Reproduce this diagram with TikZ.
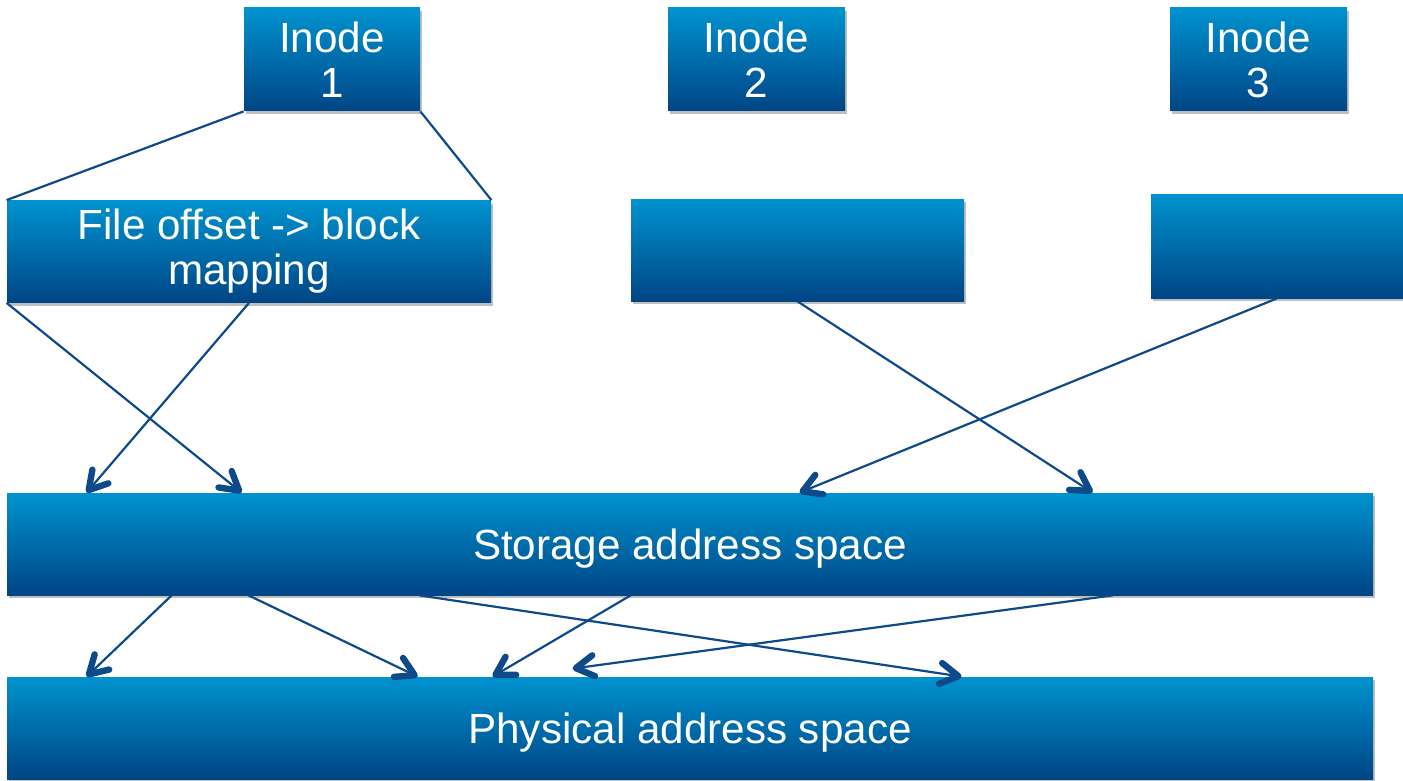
\documentclass[tikz,border=0pt]{standalone}
\usepackage{fontspec}
\setmainfont{Liberation Sans}
\usetikzlibrary{arrows.meta,calc,shadows}
\definecolor{boxtop}{HTML}{0093CF}
\definecolor{boxbot}{HTML}{004585}
\definecolor{linec}{HTML}{0E4A8A}
\begin{document}
\begin{tikzpicture}[x=0.5pt,y=-0.5pt,
  blk/.style={rectangle, inner sep=0pt, top color=boxtop, bottom color=boxbot,
    text=white, align=center, font=\fontsize{21.1}{22.5}\selectfont,
    drop shadow={shadow xshift=1.2pt, shadow yshift=-1.5pt, opacity=0.25, fill=black}},
  lowtext/.style={text height=16pt, text depth=1pt},
  conn/.style={draw=linec, line width=1.1pt},
  arr/.style={conn, -{Straight Barb[length=9pt,width=10.5pt,line width=3.2pt 0,round]}}]
\useasboundingbox (0,0) rectangle (1403,781);
\node[blk, minimum width=88pt, minimum height=51.5pt] (i1) at (332,59.5) {Inode\\1};
\node[blk, minimum width=88.5pt, minimum height=51.5pt] (i2) at (756.5,59.5) {Inode\\2};
\node[blk, minimum width=88.5pt, minimum height=51.5pt] (i3) at (1258.5,59.5) {Inode\\3};
\node[blk, minimum width=242pt, minimum height=51pt] (f1) at (249,251.5) {File offset -> block\\mapping};
\node[blk, minimum width=166.5pt, minimum height=51pt] (f2) at (797.5,250) {};
\node[blk, minimum width=126pt, minimum height=52pt] (f3) at (1277,246) {};
\node[blk, lowtext, minimum width=683pt, minimum height=51pt] (st) at (690,544) {Storage address space};
\node[blk, lowtext, minimum width=683pt, minimum height=51pt] (ph) at (690,728) {Physical address space};
% inode 1 to its mapping
\draw[conn] (i1.south west) -- (f1.north west);
\draw[conn] (i1.south east) -- (f1.north east);
% mappings to storage
\draw[arr] (f1.south west) -- ($(st.north west)+(235,0)$);
\draw[arr] (f1.south) -- ($(st.north west)+(80,0)$);
\draw[arr] (f2.south) -- ($(st.north west)+(1086,0)$);
\draw[arr] (f3.south) -- ($(st.north west)+(793,0)$);
% storage to physical
\draw[arr] ($(st.south west)+(165,0)$) -- ($(ph.north west)+(80,0)$);
\draw[arr] ($(st.south west)+(242,0)$) -- ($(ph.north west)+(411,0)$);
\draw[arr] ($(st.south west)+(413,0)$) -- ($(ph.north west)+(955,0)$);
\draw[arr] ($(st.south west)+(624,0)$) -- ($(ph.north west)+(486,0)$);
\draw[arr] ($(st.south west)+(1106,0)$) -- ($(ph.north west)+(566,-8)$);
\end{tikzpicture}
\end{document}
